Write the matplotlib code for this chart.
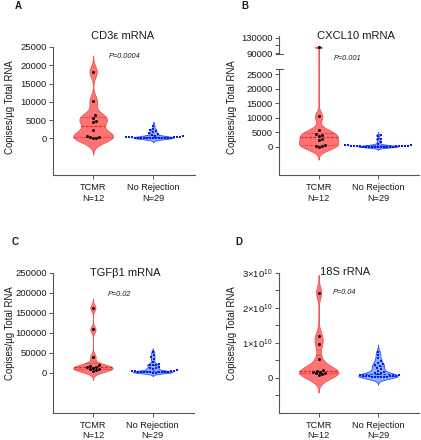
import numpy as np
import matplotlib
matplotlib.use('Agg')
import matplotlib.pyplot as plt
from matplotlib.scale import FuncScale
from matplotlib.ticker import FuncFormatter, FixedLocator

plt.rcParams['font.family'] = ['Liberation Sans', 'DejaVu Sans']
plt.rcParams['mathtext.fontset'] = 'custom'
plt.rcParams['mathtext.rm'] = 'Liberation Sans'
plt.rcParams['mathtext.it'] = 'Liberation Sans:italic'

# ---------------- data ----------------
categories = ['TCMR\nN=12', 'No Rejection\nN=29']
titles = ['CD3ε mRNA', 'CXCL10 mRNA', 'TGFβ1 mRNA', '18S rRNA']
pvalues = ['P=0.0004', 'P=0.001', 'P=0.02', 'P=0.04']
letters = ['A', 'B', 'C', 'D']
ylabel = 'Copises/µg Total RNA'

cd3_tcmr = [18200, 10300, 6300, 5600, 4900, 4500, 2300, 700, 500, 300, 200, 100]
cd3_norej = [3500, 2600, 2300, 2000, 1700, 1400, 1100, 900, 700, 600, 500, 450, 400,
             350, 300, 300, 250, 200, 200, 150, 150, 100, 100, 80, 60, 50, 40, 30, 20]

cxcl_tcmr = [105000, 10500, 5700, 4500, 4200, 3800, 2800, 2200, 600, 400, 300, 100]
cxcl_norej = [4100, 3900, 2700, 2600, 1600, 1000, 800, 600, 500, 400, 350, 300, 300,
              250, 200, 200, 150, 150, 120, 100, 100, 80, 60, 50, 40, 30, 20, 10, 5]

tgf_tcmr = [162000, 108000, 40000, 19000, 17000, 15000, 13000, 12000, 10000, 8000, 6000, 4000]
tgf_norej = [52000, 45000, 39000, 33000, 26000, 21000, 20000, 19000, 18000, 13000, 12000,
             11000, 10000, 6000, 5000, 4000, 3500, 3000, 2500, 2000, 2000, 1500, 1500,
             1000, 1000, 800, 500, 300, 100]

s18_tcmr = [2.43e10, 1.19e10, 0.97e10, 0.53e10, 0.23e10, 0.20e10, 0.17e10, 0.15e10,
            0.13e10, 0.12e10, 0.10e10, 0.09e10]
s18_norej = [0.74e10, 0.65e10, 0.55e10, 0.48e10, 0.42e10, 0.38e10, 0.35e10, 0.32e10,
             0.28e10, 0.25e10, 0.20e10, 0.17e10, 0.14e10, 0.12e10, 0.10e10, 0.08e10,
             0.07e10, 0.06e10, 0.05e10, 0.05e10, 0.04e10, 0.04e10, 0.04e10, 0.03e10,
             0.03e10, 0.03e10, 0.02e10, 0.02e10, 0.01e10]

groups = [(cd3_tcmr, cd3_norej), (cxcl_tcmr, cxcl_norej), (tgf_tcmr, tgf_norej), (s18_tcmr, s18_norej)]

# ---------------- style ----------------
W, H = 421, 440
bandwidths = [(1500, 350), (1500, 350), (7500, 3000), (0.17e10, 0.07e10)]
ylims = [(-10000, 25000), (-9700, 134000), (-100000, 250000), (-1e10, 3e10)]
yticks = [np.arange(0, 25001, 5000), [0, 5000, 10000, 15000, 20000, 25000, 90000, 130000],
          np.arange(0, 250001, 50000), [0, 1e10, 2e10, 3e10]]
axes_px = [(53, 195, 47, 175), (279, 419, 36, 175), (53, 194, 272.7, 412.7), (279, 419, 272.7, 412.7)]
title_px = [(123, 36), (356, 36), (125, 273), (345, 272)]
p_px = [(125, 57), (348, 58), (120, 295), (345, 293)]
letter_px = [(18, 6), (245, 6), (15, 242), (239, 242)]
ylab_coords = [(-0.27, 0.53), (-0.30, 0.49), (-0.27, 0.57), (-0.30, 0.57)]

red_fill, red_edge, red_line = '#ff7373', '#ef5555', '#d62a2a'
blue_fill, blue_edge, blue_line = '#86b4ff', '#2f52e6', '#2040d0'
spine_c = '#555555'
text_c = '#1a1a1a'
half_w = 0.33

# broken-axis scale for panel B (piecewise linear)
LT, HB = 27000.0, 87000.0
r1 = 1 / 348.7
gap_px = 14.0
r2 = 1 / 2580.0


def fwd(y):
    y = np.asarray(y, float)
    low = y * r1
    mid = LT * r1 + (y - LT) / (HB - LT) * gap_px
    high = LT * r1 + gap_px + (y - HB) * r2
    return np.where(y <= LT, low, np.where(y < HB, mid, high))


def inv(f):
    f = np.asarray(f, float)
    f1 = LT * r1
    f2 = f1 + gap_px
    low = f / r1
    mid = LT + (f - f1) / gap_px * (HB - LT)
    high = HB + (f - f2) / r2
    return np.where(f <= f1, low, np.where(f < f2, mid, high))


def kde(vals, bw, n=4000):
    v = np.asarray(vals, float)
    grid = np.linspace(v.min() - 3 * bw, v.max() + 3 * bw, n)
    dens = np.exp(-0.5 * ((grid[:, None] - v[None, :]) / bw) ** 2).sum(1)
    return grid, dens / dens.max()


def swarm(ax, x0, vals, d_px):
    v = np.asarray(vals, float)
    pts = ax.transData.transform(np.column_stack([np.full(len(v), x0), v]))
    ys = pts[:, 1]
    ppu = ax.transData.transform((1, 0))[0] - ax.transData.transform((0, 0))[0]
    order = np.argsort(ys)
    placed = []
    offs = np.zeros(len(v))
    cands = [0.0]
    for k in range(1, 80):
        cands += [k * d_px * 0.5, -k * d_px * 0.5]
    for i in order:
        y = ys[i]
        for c in cands:
            ok = True
            for (px, py) in placed:
                if (px - c) ** 2 + (py - y) ** 2 < (d_px * 0.95) ** 2:
                    ok = False
                    break
            if ok:
                offs[i] = c
                placed.append((c, y))
                break
    return x0 + offs / ppu


fig = plt.figure(figsize=(W / 100, H / 100), dpi=100)

for idx in range(4):
    l, r, t, b = axes_px[idx]
    ax = fig.add_axes([l / W, 1 - b / H, (r - l) / W, (b - t) / H])
    if idx == 1:
        ax.set_yscale(FuncScale(ax, (fwd, inv)))
    ax.set_xlim(-0.667, 1.69)
    ax.set_ylim(*ylims[idx])
    for s in ['top', 'right']:
        ax.spines[s].set_visible(False)
    for s in ['left', 'bottom']:
        ax.spines[s].set_color(spine_c)
        ax.spines[s].set_linewidth(0.8)
    ax.set_xticks([0, 1])
    ax.set_xticklabels(categories, fontsize=6.6, color=text_c)
    ax.set_yticks(yticks[idx])
    if idx == 3:
        def fmt(v, pos):
            if v == 0:
                return '0'
            return '%d×10$^{10}$' % round(v / 1e10)
        ax.yaxis.set_major_formatter(FuncFormatter(fmt))
        ax.yaxis.set_minor_locator(FixedLocator([-0.5e10, 0.5e10, 1.5e10, 2.5e10]))
    else:
        ax.yaxis.set_major_formatter(FuncFormatter(lambda v, pos: '%d' % v))
    if idx == 1:
        ax.yaxis.set_minor_locator(FixedLocator([110000]))
        ax.spines['left'].set_visible(False)
        tr = ax.get_yaxis_transform()
        ax.plot([0, 0], [ylims[1][0], LT], transform=tr, color=spine_c, lw=0.8, clip_on=False)
        ax.plot([0, 0], [HB, ylims[1][1]], transform=tr, color=spine_c, lw=0.8, clip_on=False)
        for yy in [LT, HB]:
            ax.plot([-0.025, 0.025], [yy, yy], transform=tr, color=spine_c, lw=0.8, clip_on=False)
    ax.tick_params(axis='y', which='major', length=3, width=0.7, color=spine_c,
                   labelsize=6.8, labelcolor=text_c, pad=1.5)
    ax.tick_params(axis='y', which='minor', length=3, width=0.7, color=spine_c)
    ax.tick_params(axis='x', length=3, width=0.7, color=spine_c, pad=3)
    ax.set_ylabel(ylabel, fontsize=6.9, color=text_c)
    ax.yaxis.set_label_coords(*ylab_coords[idx])
    ax.patch.set_alpha(0)

    bws = bandwidths[idx]
    for gi, vals in enumerate(groups[idx]):
        fill, edge, line = (red_fill, red_edge, red_line) if gi == 0 else (blue_fill, blue_edge, blue_line)
        grid, dens = kde(vals, bws[gi])
        w = dens * half_w
        ax.fill_betweenx(grid, gi - w, gi + w, facecolor=fill, edgecolor=edge, lw=0.6, zorder=2)
        q1, med, q3 = np.percentile(vals, [25, 50, 75])
        for q, ls, lw in [(q1, (0, (1, 1.2)), 0.7), (med, (0, (2.2, 1.3)), 0.9), (q3, (0, (1, 1.2)), 0.7)]:
            wq = np.interp(q, grid, w)
            ax.plot([gi - wq, gi + wq], [q, q], color=line, lw=lw, ls=ls, zorder=3)
        xs = swarm(ax, gi, vals, 3.0)
        if gi == 0:
            ax.scatter(xs, vals, s=4.5, marker='o', color='black', linewidths=0, zorder=4)
        else:
            ax.scatter(xs, vals, s=3.2, marker='s', color='#0a14ff', linewidths=0, zorder=4)

    tx, ty = title_px[idx]
    fig.text(tx / W, 1 - ty / H, titles[idx], fontsize=8, ha='center', va='center', color=text_c)
    px, py = p_px[idx]
    fig.text(px / W, 1 - py / H, pvalues[idx], fontsize=5.3, style='italic', ha='center', va='center', color=text_c)
    lx, ly = letter_px[idx]
    fig.text(lx / W, 1 - ly / H, letters[idx], fontsize=7, fontweight='bold', ha='center', va='center', color=text_c)

fig.savefig('out.png', dpi=100)
